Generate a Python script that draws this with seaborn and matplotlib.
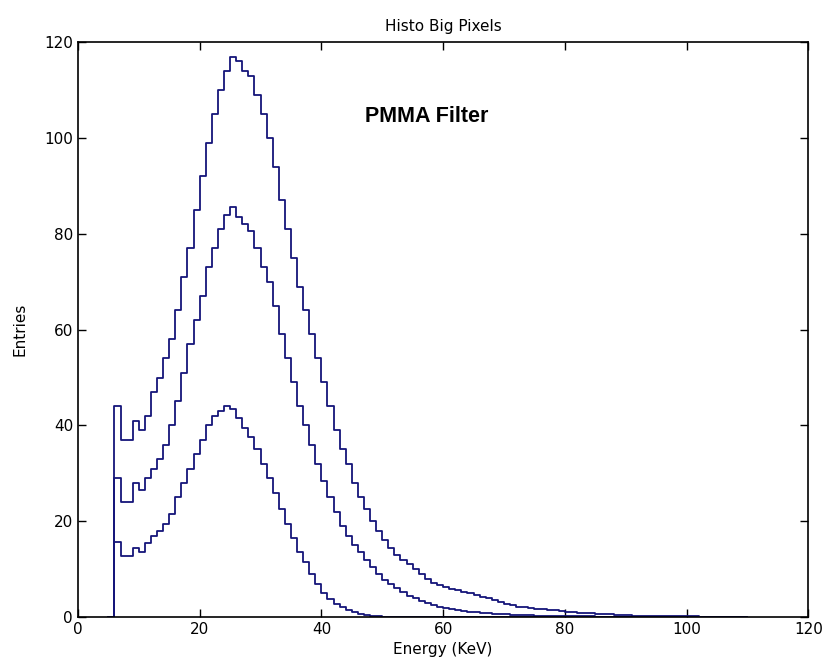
import numpy as np
import pandas as pd
import seaborn as sns
import matplotlib.pyplot as plt

sns.set_style("ticks")
plt.rcParams['font.family'] = ['DejaVu Sans']
plt.rcParams['text.color'] = 'black'
plt.rcParams['axes.labelcolor'] = 'black'

# bin edges in KeV (1 KeV bins, empty bins at 5-6 and 109-110)
edges = np.arange(5, 111, 1.0)
centers = edges[:-1] + 0.5

# top curve
entries_top = [0, 44, 37, 37, 41, 39, 42, 47, 50, 54, 58,
               64, 71, 77, 85, 92, 99, 105, 110, 114, 117,
               116, 114, 113, 109, 105, 100, 94, 87, 81, 75,
               69, 64, 59, 54, 49, 44, 39, 35, 32, 28,
               25, 22.5, 20, 18, 16, 14.5, 13, 12, 11, 10,
               9, 8, 7.2, 6.6, 6.2, 5.9, 5.6, 5.3, 5, 4.6,
               4.2, 3.9, 3.5, 3.2, 2.8, 2.5, 2.2, 2, 1.8, 1.7,
               1.6, 1.5, 1.4, 1.2, 1.1, 1.0, 0.9, 0.8, 0.8, 0.7,
               0.7, 0.6, 0.5, 0.4, 0.4, 0.3, 0.3, 0.3, 0.3, 0.2,
               0.2, 0.2, 0.2, 0.2, 0.2, 0.2, 0.1, 0.1, 0.1, 0.1,
               0.1, 0.1, 0.1, 0]

# middle curve
entries_mid = [0, 29, 24, 24, 28, 26.5, 29, 31, 33, 36, 40,
               45, 51, 57, 62, 67, 73, 77, 81, 84, 85.5,
               83.5, 82, 80.5, 77, 73, 70, 65, 59, 54, 49,
               44, 40, 36, 32, 28.5, 25, 22, 19, 17, 15,
               13.5, 12, 10.5, 9, 7.8, 6.8, 6, 5.2, 4.5, 4,
               3.4, 3, 2.6, 2.2, 1.9, 1.7, 1.5, 1.3, 1.1, 1.0,
               0.9, 0.8, 0.7, 0.6, 0.6, 0.5, 0.5, 0.4, 0.4, 0.3,
               0.3, 0.3, 0.3, 0.2, 0.2, 0.2, 0.2, 0.2, 0.2, 0.1,
               0.1, 0.1, 0.1, 0.1, 0.1, 0.1, 0.1, 0.1, 0.1, 0.1,
               0.1, 0.1, 0.1, 0.1, 0.1, 0.1, 0.1, 0.1, 0.1, 0.1,
               0.1, 0.1, 0.1, 0]

# bottom curve
entries_low = [0, 15.7, 12.7, 12.7, 14.4, 13.6, 15.5, 17, 18, 19.5, 21.5,
               25, 28, 31, 34, 37, 40, 42, 43, 44, 43.5,
               41.5, 39.5, 37.5, 35, 32, 29, 26, 22.5, 19.5, 16.5,
               13.5, 11.5, 9, 7, 5, 3.8, 2.8, 2, 1.4, 1.0,
               0.7, 0.4, 0.2, 0.2, 0.1, 0.1, 0.1, 0.1, 0.1, 0.1,
               0.1, 0.1, 0.1, 0.1, 0.1, 0.1, 0.1, 0.1, 0.1, 0.1,
               0.1, 0.1, 0.1, 0.1, 0.1, 0.1, 0.1, 0.1, 0.1, 0.1,
               0.1, 0.1, 0.1, 0.1, 0.1, 0.1, 0.1, 0.1, 0.1, 0.1,
               0.1, 0.1, 0.1, 0.1, 0.1, 0.1, 0.1, 0.1, 0.1, 0.1,
               0.1, 0.1, 0.1, 0.1, 0.1, 0.1, 0.1, 0.1, 0.1, 0.1,
               0.1, 0.1, 0.1, 0]

line_col = '#15157a'

fig = plt.figure(figsize=(8.29, 6.70), dpi=100)
ax = fig.add_axes([0.094, 0.079, 0.881, 0.858])

for vals in [entries_top, entries_mid, entries_low]:
    df = pd.DataFrame({'energy': centers, 'entries': vals})
    sns.histplot(data=df, x='energy', weights='entries', bins=list(edges),
                 element='step', fill=False, color=line_col,
                 linewidth=1.3, ax=ax)

ax.set_xlim(0, 120)
ax.set_ylim(0, 120)
ax.set_xticks(np.arange(0, 121, 20))
ax.set_yticks(np.arange(0, 121, 20))
ax.tick_params(direction='in', top=True, right=True, length=6,
               labelsize=11, colors='black', width=1)
for s in ax.spines.values():
    s.set_visible(True)
    s.set_linewidth(1.2)
    s.set_color('black')

ax.set_title('Histo Big Pixels', fontsize=11, pad=8, color='black')
ax.set_xlabel('Energy (KeV)', fontsize=11, labelpad=4)
ax.set_ylabel('Entries', fontsize=11, labelpad=12)

ax.text(47.2, 103.3, 'PMMA Filter', fontsize=15.5, fontweight='bold',
        color='black', family=['Liberation Sans', 'DejaVu Sans'],
        ha='left', va='baseline')

fig.savefig('out.png', dpi=100)
